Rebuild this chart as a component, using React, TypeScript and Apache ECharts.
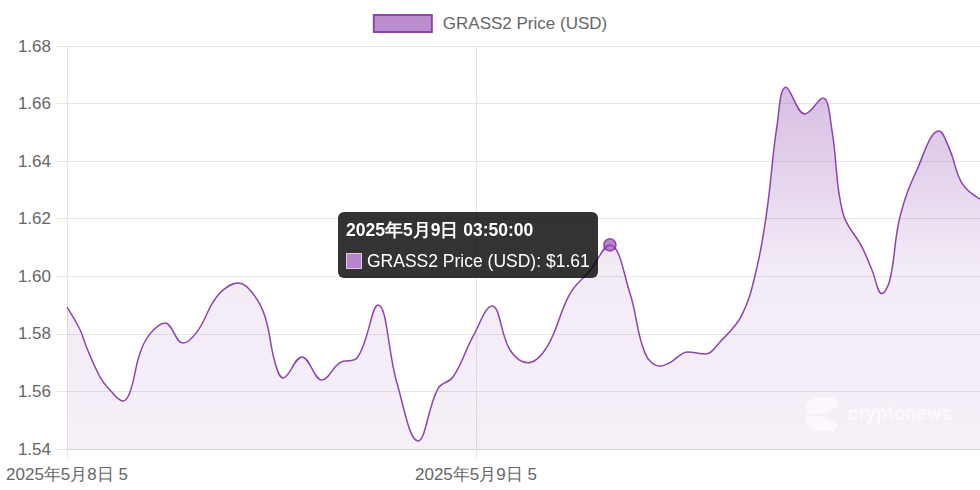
import React, { useEffect, useRef } from "react";
import * as echarts from "echarts";

const seriesName = "GRASS2 Price (USD)";
const xTickValues = [0, 24];
const xTickLabels = ["2025年5月8日 5", "2025年5月9日 5"];
const hoverIndex = 35;
const hoverTime = "2025年5月9日 03:50:00";

// hours since first tick
const hours = [0, 0.76, 1.17, 1.94, 2.52, 3.29, 3.7, 4.28, 4.87, 5.75, 6.81, 7.63, 8.57, 9.15, 10.03, 10.91, 11.62, 12.21, 12.68, 13.79, 14.96, 16.02, 17.02, 18.25, 19.36, 20.6, 21.77, 22.65, 23.82, 24.94, 26.0, 27.05, 28.17, 29.52, 30.69, 31.86, 33.04, 33.92, 34.8, 35.38, 36.44, 37.44, 38.32, 39.61, 40.49, 41.08, 41.66, 42.19, 43.31, 44.36, 44.89, 45.53, 46.65, 47.24, 47.82, 48.29, 48.88, 49.88, 51.17, 51.81, 52.52, 53.58];
const prices = [1.5893, 1.5815, 1.575, 1.565, 1.5605, 1.5567, 1.5598, 1.5733, 1.58, 1.5838, 1.5768, 1.5807, 1.591, 1.5952, 1.5977, 1.594, 1.586, 1.57, 1.5647, 1.572, 1.564, 1.57, 1.5716, 1.59, 1.563, 1.5428, 1.561, 1.565, 1.579, 1.5897, 1.5744, 1.57, 1.5755, 1.594, 1.602, 1.6109, 1.594, 1.5733, 1.5688, 1.57, 1.5737, 1.573, 1.5772, 1.5866, 1.6032, 1.623, 1.652, 1.6657, 1.6564, 1.6619, 1.6508, 1.622, 1.6102, 1.6022, 1.594, 1.5987, 1.6206, 1.637, 1.6505, 1.6439, 1.6324, 1.6268];

const PURPLE = "#8e44ad";
const GRID = "#e6e6e6";
const FONT = "'Liberation Sans', Arial, Helvetica, sans-serif";

export default function App() {
  const ref = useRef<HTMLDivElement>(null);
  useEffect(() => {
    document.body.style.margin = "0";
    const chart = echarts.init(ref.current as HTMLDivElement, null, { renderer: "svg" });
    const lineData = hours.map((h, i) => [h, prices[i]]);
    chart.setOption({
      animation: false,
      textStyle: { fontFamily: FONT },
      legend: {
        data: [seriesName],
        top: 9,
        left: "center",
        icon: "rect",
        itemWidth: 58,
        itemHeight: 17,
        itemStyle: { color: "rgba(142,68,173,0.6)", borderColor: PURPLE, borderWidth: 2 },
        textStyle: { fontSize: 17, color: "#666", fontFamily: FONT, padding: [0, 0, 0, 6] },
        selectedMode: false,
      },
      grid: { left: 67, right: 0, top: 46, bottom: 41, containLabel: false },
      tooltip: {
        trigger: "item",
        triggerOn: "none",
        alwaysShowContent: true,
        transitionDuration: 0,
        backgroundColor: "rgba(0,0,0,0.8)",
        borderWidth: 0,
        padding: [6, 8, 6, 8],
        extraCssText: "border-radius:6px;box-shadow:none;",
        textStyle: { color: "#fff", fontSize: 17.5, fontFamily: FONT },
        position: (point: number[], _p: any, _d: any, _r: any, size: any) => [
          point[0] - size.contentSize[0] - 12,
          point[1] - size.contentSize[1] / 2,
        ],
        formatter: () =>
          `<div style="font-weight:bold;line-height:24px;margin-bottom:8px">${hoverTime}</div>` +
          `<div style="line-height:22px;display:flex;align-items:center">` +
          `<span style="display:inline-block;box-sizing:border-box;width:16px;height:16px;background:#b784c9;border:1px solid #e3c6ee;margin-right:5px"></span>` +
          `${seriesName}: $${prices[hoverIndex].toFixed(2)}</div>`,
      },
      xAxis: {
        type: "value",
        min: 0,
        max: hours[hours.length - 1],
        axisLine: { show: true, lineStyle: { color: "#d6d6d6", width: 1 } },
        axisTick: { show: true, customValues: xTickValues, length: 10, lineStyle: { color: GRID } },
        splitLine: { show: true, lineStyle: { color: GRID } },
        axisLabel: {
          customValues: xTickValues,
          margin: 17,
          fontSize: 17,
          color: "#666",
          fontFamily: FONT,
          formatter: (v: number) => {
            const i = xTickValues.indexOf(v);
            return i >= 0 ? xTickLabels[i] : "";
          },
        },
      },
      yAxis: {
        type: "value",
        min: 1.54,
        max: 1.68,
        interval: 0.02,
        axisLine: { show: true, lineStyle: { color: GRID } },
        axisTick: { show: true, length: 10, lineStyle: { color: GRID } },
        splitLine: { show: true, lineStyle: { color: GRID } },
        axisLabel: {
          margin: 16,
          fontSize: 17,
          color: "#666",
          fontFamily: FONT,
          formatter: (v: number) => v.toFixed(2),
        },
      },
      series: [
        {
          name: seriesName,
          type: "line",
          data: lineData,
          smooth: 0.4,
          symbol: "none",
          lineStyle: { color: PURPLE, width: 1.5 },
          itemStyle: { color: PURPLE },
          areaStyle: {
            color: new echarts.graphic.LinearGradient(0, 0, 0, 1, [
              { offset: 0, color: "rgba(142,68,173,0.5)" },
              { offset: 0.5, color: "rgba(142,68,173,0.15)" },
              { offset: 1, color: "rgba(142,68,173,0.12)" },
            ]),
          },
          tooltip: { show: false },
          silent: true,
          z: 2,
        },
        {
          name: "hover",
          type: "scatter",
          data: [[hours[hoverIndex], prices[hoverIndex]]],
          symbol: "circle",
          symbolSize: 12,
          itemStyle: { color: "rgba(142,68,173,0.8)", borderColor: "#7d2f9e", borderWidth: 1.5 },
          z: 5,
        },
      ],
      graphic: [
        {
          type: "polygon",
          shape: { points: [[806, 404], [813, 397], [833, 397], [838, 402], [838, 406], [822, 414], [806, 414]] },
          style: { fill: "rgba(255,255,255,0.55)" },
          silent: true,
          z: 10,
        },
        {
          type: "polygon",
          shape: { points: [[806, 416], [822, 416], [838, 424], [838, 426], [833, 431], [813, 431], [806, 424]] },
          style: { fill: "rgba(255,255,255,0.55)" },
          silent: true,
          z: 10,
        },
        {
          type: "text",
          x: 848,
          y: 413,
          style: {
            text: "cryptonews",
            font: "bold 20px Roboto, 'Noto Sans', sans-serif",
            fill: "rgba(255,255,255,0.6)",
            verticalAlign: "middle",
          },
          silent: true,
          z: 10,
        },
      ],
    });
    chart.dispatchAction({ type: "showTip", seriesIndex: 1, dataIndex: 0 });
    return () => chart.dispose();
  }, []);
  return <div ref={ref} style={{ width: 980, height: 490 }} />;
}
